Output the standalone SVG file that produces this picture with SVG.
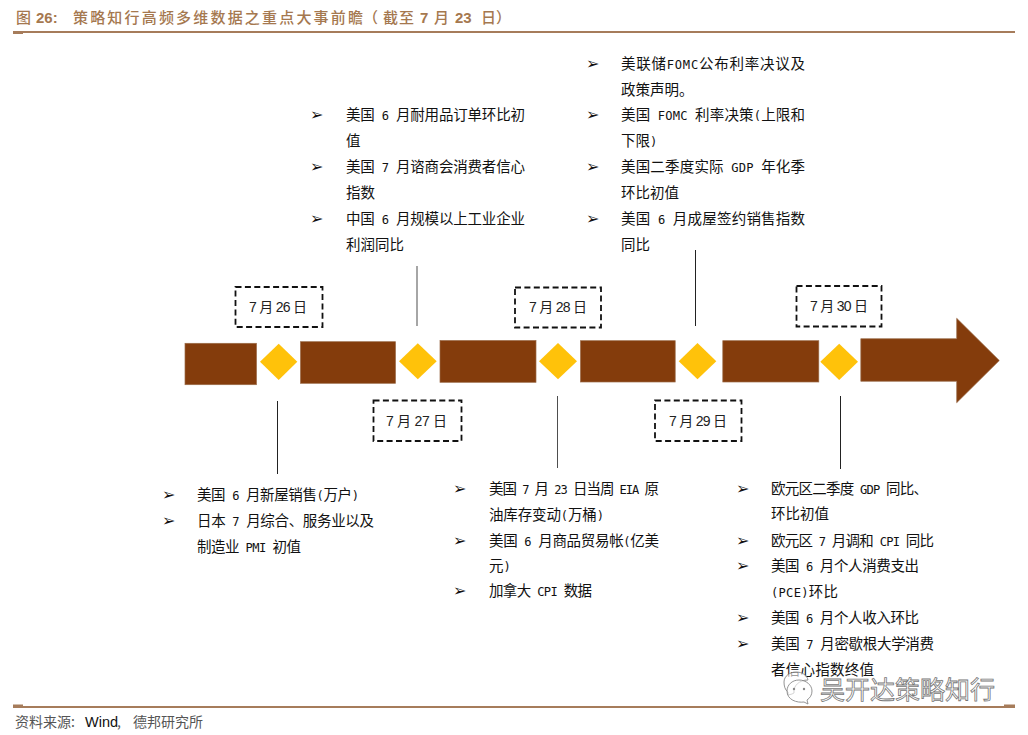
<svg xmlns="http://www.w3.org/2000/svg" width="1028" height="735" viewBox="0 0 1028 735">
<style>
text{font-family:"Noto Sans CJK SC","Liberation Sans",sans-serif}
.t{font-size:14.5px;fill:#111}
.t tspan{font-family:"DejaVu Sans Mono",monospace;font-size:12.08px}
.b{font-family:"DejaVu Sans",sans-serif;font-size:16px;fill:#111}
.bar{fill:#843c0c;stroke:#9a6a48;stroke-width:.7}
.dia{fill:#ffc20a}
.box{fill:#fff;stroke:#111;stroke-width:1.8;stroke-dasharray:6 3.4}
.d{font-size:14px;fill:#222;font-family:"Liberation Sans","Noto Sans CJK SC",sans-serif}
.ln{stroke:#222;stroke-width:1;fill:none}
.rule{fill:#a67c5b}
.h{font-size:15px;fill:#a5784f;font-weight:500;font-family:"Noto Sans CJK SC",sans-serif}
.hl{font-size:15px;fill:#a5784f;font-weight:bold;font-family:"Liberation Sans",sans-serif}
</style>
<g id="header">
<rect class="rule" x="13" y="31" width="1002" height="2"/>
<rect class="rule" x="13" y="33" width="10" height="1"/>
<text class="h" x="16" y="23">图</text>
<text class="hl" x="36" y="23">26:</text>
<text class="h" x="73" y="23" textLength="290">策略知行高频多维数据之重点大事前瞻</text>
<text class="h" x="363" y="23">（</text>
<text class="h" x="383" y="23" textLength="31">截至</text>
<text class="hl" x="420" y="23">7</text>
<text class="h" x="434" y="23">月</text>
<text class="hl" x="455" y="23">23</text>
<text class="h" x="481" y="23">日</text>
<text class="h" x="496" y="23">）</text>
</g>
<g id="connectors">
<line class="ln" x1="417" y1="266" x2="417" y2="326" stroke-opacity=".8"/>
<line class="ln" x1="695.5" y1="250" x2="695.5" y2="326"/>
<line class="ln" x1="277.5" y1="401" x2="277.5" y2="474"/>
<line class="ln" x1="557.5" y1="396" x2="557.5" y2="468" stroke-opacity=".8"/>
<line class="ln" x1="840.5" y1="396" x2="840.5" y2="469"/>
</g>
<g id="timeline">
<rect class="bar" x="185" y="343.3" width="71.5" height="41.4"/>
<rect class="bar" x="300.5" y="341.7" width="95" height="41.6"/>
<rect class="bar" x="440" y="340.5" width="96" height="41.8"/>
<rect class="bar" x="580.5" y="340.7" width="94.7" height="41.3"/>
<rect class="bar" x="722.8" y="340.7" width="96" height="41.3"/>
<path class="bar" d="M860.8 338.7H956.7V318.3L999.3 360.5 956.7 402.7V381.3H860.8Z"/>
</g>
<g id="m1"><path class="dia" d="M260 361.8 278.7 343.7 297.3 361.8 278.7 380Z"/></g>
<g id="m2"><path class="dia" d="M399 361.3 417.8 343.3 436.7 361.3 417.8 379.3Z"/></g>
<g id="m3"><path class="dia" d="M539 361.2 558 343 577 361.2 558 379.3Z"/></g>
<g id="m4"><path class="dia" d="M678.7 361.2 697.5 343 716.3 361.2 697.5 379.3Z"/></g>
<g id="m5"><path class="dia" d="M820.3 361.8 839.2 343.7 858 361.8 839.2 380Z"/></g>
<g id="date-26"><rect class="box" x="235.5" y="287" width="87" height="40"/><text class="d" x="249" y="312" textLength="58">7 月 26 日</text></g>
<g id="date-27"><rect class="box" x="373.5" y="400.5" width="88" height="40.5"/><text class="d" x="386" y="426" textLength="61">7 月 27 日</text></g>
<g id="date-28"><rect class="box" x="515" y="287.5" width="86" height="40"/><text class="d" x="529" y="312" textLength="58">7 月 28 日</text></g>
<g id="date-29"><rect class="box" x="655" y="400.5" width="86.5" height="40.5"/><text class="d" x="669" y="426" textLength="58">7 月 29 日</text></g>
<g id="date-30"><rect class="box" x="796.5" y="286" width="85" height="40.5"/><text class="d" x="810" y="311" textLength="58">7 月 30 日</text></g>
<g id="note-26-below">
<text class="b" x="162" y="500">➢</text><text class="t" x="197" y="500" textLength="162">美国<tspan> 6 </tspan>月新屋销售<tspan>(</tspan>万户<tspan>)</tspan></text>
<text class="b" x="162" y="526">➢</text><text class="t" x="197" y="526" textLength="177">日本<tspan> 7 </tspan>月综合、服务业以及</text>
<text class="t" x="197" y="552" textLength="104">制造业<tspan> PMI </tspan>初值</text>
</g>
<g id="note-27-above">
<text class="b" x="310" y="120">➢</text><text class="t" x="346" y="120" textLength="179">美国<tspan> 6 </tspan>月耐用品订单环比初</text>
<text class="t" x="346" y="146">值</text>
<text class="b" x="310" y="172">➢</text><text class="t" x="346" y="172" textLength="179">美国<tspan> 7 </tspan>月谘商会消费者信心</text>
<text class="t" x="346" y="198">指数</text>
<text class="b" x="310" y="224">➢</text><text class="t" x="346" y="224" textLength="179">中国<tspan> 6 </tspan>月规模以上工业企业</text>
<text class="t" x="346" y="250">利润同比</text>
</g>
<g id="note-28-below">
<text class="b" x="453" y="494">➢</text><text class="t" x="489" y="494" textLength="170">美国<tspan> 7 </tspan>月<tspan> 23 </tspan>日当周<tspan> EIA </tspan>原</text>
<text class="t" x="489" y="520" textLength="115">油库存变动<tspan>(</tspan>万桶<tspan>)</tspan></text>
<text class="b" x="453" y="546">➢</text><text class="t" x="489" y="546" textLength="170">美国<tspan> 6 </tspan>月商品贸易帐<tspan>(</tspan>亿美</text>
<text class="t" x="489" y="571">元<tspan>)</tspan></text>
<text class="b" x="453" y="596">➢</text><text class="t" x="489" y="596" textLength="103">加拿大<tspan> CPI </tspan>数据</text>
</g>
<g id="note-29-above">
<text class="b" x="586" y="69">➢</text><text class="t" x="621" y="69" textLength="184">美联储<tspan>FOMC</tspan>公布利率决议及</text>
<text class="t" x="621" y="95">政策声明。</text>
<text class="b" x="586" y="120">➢</text><text class="t" x="621" y="120" textLength="184">美国<tspan> FOMC </tspan>利率决策<tspan>(</tspan>上限和</text>
<text class="t" x="621" y="146">下限<tspan>)</tspan></text>
<text class="b" x="586" y="172">➢</text><text class="t" x="621" y="172" textLength="184">美国二季度实际<tspan> GDP </tspan>年化季</text>
<text class="t" x="621" y="198">环比初值</text>
<text class="b" x="586" y="224">➢</text><text class="t" x="621" y="224" textLength="184">美国<tspan> 6 </tspan>月成屋签约销售指数</text>
<text class="t" x="621" y="250">同比</text>
</g>
<g id="note-30-below">
<text class="b" x="736" y="494">➢</text><text class="t" x="771" y="494" textLength="157">欧元区二季度<tspan> GDP </tspan>同比、</text>
<text class="t" x="771" y="519">环比初值</text>
<text class="b" x="736" y="546">➢</text><text class="t" x="771" y="546" textLength="163">欧元区<tspan> 7 </tspan>月调和<tspan> CPI </tspan>同比</text>
<text class="b" x="736" y="571">➢</text><text class="t" x="771" y="571" textLength="148">美国<tspan> 6 </tspan>月个人消费支出</text>
<text class="t" x="771" y="597" textLength="67"><tspan>(PCE)</tspan>环比</text>
<text class="b" x="736" y="623">➢</text><text class="t" x="771" y="623" textLength="148">美国<tspan> 6 </tspan>月个人收入环比</text>
<text class="b" x="736" y="649">➢</text><text class="t" x="771" y="649" textLength="163">美国<tspan> 7 </tspan>月密歇根大学消费</text>
<text class="t" x="771" y="675" textLength="103">者信心指数终值</text>
</g>
<g id="footer">
<rect class="rule" x="13" y="706" width="1002" height="2"/>
<rect class="rule" x="13" y="704.5" width="10" height="1.5"/>
<rect class="rule" x="1004" y="704.5" width="11" height="2"/>
<text x="15" y="727" font-size="14" fill="#555">资料来源:</text>
<text x="85" y="727" font-size="14.5" fill="#111" style="font-family:'Liberation Sans',sans-serif">Wind</text>
<text x="117" y="727" font-size="14" fill="#555">,</text>
<text x="133" y="727" font-size="14" fill="#555">德邦研究所</text>
</g>
<g id="watermark">
<path d="M775 680c0-6 6-10 12-10s11 3 12 8c-9 0-15 6-14 13l-2 1-4 1 0-3c-3-2-4-6-4-10Z" fill="#fff" fill-opacity=".6" stroke="#888" stroke-width=".9" transform="translate(9 2)"/>
<path d="M799 680c7 0 13 5 13 11 0 4-2 7-5 9l1 4-4-2c-7 1-17-2-17-11 0-6 5-11 12-11Z" fill="#fff" fill-opacity=".6" stroke="#888" stroke-width=".9"/>
<circle cx="794" cy="689" r="1.2" fill="#888"/><circle cx="804" cy="689" r="1.2" fill="#888"/>
<text x="820" y="699" font-size="25" fill="#fff" stroke="#777" stroke-width=".8" textLength="175">吴开达策略知行</text>
</g>
</svg>
